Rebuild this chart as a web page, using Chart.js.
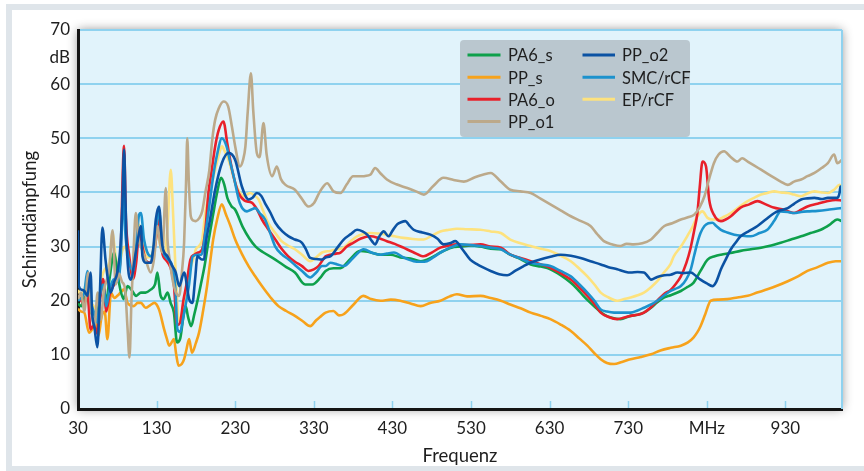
<!DOCTYPE html>
<html>
<head>
<meta charset="utf-8">
<script src="https://cdn.jsdelivr.net/npm/chart.js@4.4.1/dist/chart.umd.min.js"></script>
<style>
html,body{margin:0;padding:0;background:#fff;}
#wrap{width:864px;height:471px;position:relative;}
canvas{display:block;}
</style>
</head>
<body>
<div id="wrap"><canvas id="c" width="864" height="471"></canvas></div>
<script>
// ---- DATA (frequency MHz, shielding dB) ----
const xTickValues = [30,130,230,330,430,530,630,730,830,930];
const xTickLabels = ['30','130','230','330','430','530','630','730','MHz','930'];
const seriesNames = ['PA6_s','PP_s','PA6_o','PP_o1','PP_o2','SMC/rCF','EP/rCF'];

const PA6_s = [[30,19.5],[34,19],[38,20.5],[42,20.9],[46,17.8],[50,17.5],[54,17.2],[58,21],[62,22.7],[66,20],[70,24],[76,28.9],[80,25.2],[84,22],[88,20.3],[93,22.7],[98,22],[104,20.9],[110,21.5],[116,21.5],[122,22],[128,23],[131,25.2],[135,21],[139,20.3],[144,21.5],[148,19.5],[152,17.8],[156,12.3],[160,13],[164,17],[167,19],[170,17],[174,15.3],[178,17.5],[182,20],[187,23.5],[191,26.4],[196,31],[202,36],[207,40],[212,42.7],[216,41.5],[220,39],[225,37.5],[230,36.8],[240,33.5],[248,31.5],[256,30],[265,29],[281,27.6],[295,26.2],[306,25.2],[319,23],[328,23],[338,24.2],[345,25.5],[355,26],[364,26],[375,27.5],[389,29.2],[400,29],[415,28.5],[428,28.5],[440,28],[453,27.8],[466,27.3],[480,28],[491,28.9],[505,29.8],[517,30],[530,30.2],[542,30],[555,29.6],[568,29.5],[580,28.5],[593,27.7],[606,26.7],[619,26.3],[631,25.8],[644,24.7],[657,23.3],[665,22.2],[673,20.9],[682,19.6],[691,18.4],[700,17.4],[708,16.9],[720,16.6],[733,17.2],[742,17.4],[750,17.8],[759,18.7],[767,19.7],[776,20.6],[784,21],[797,21.8],[805,22.5],[813,23.3],[822,25.5],[831,27.6],[840,28.2],[848,28.5],[860,28.8],[873,29.2],[886,29.5],[899,29.8],[912,30.2],[924,30.7],[937,31.3],[950,31.9],[962,32.5],[975,33.1],[986,34],[996,35],[1002,34.7]];

const PP_s = [[30,18.5],[34,18],[38,17.8],[44,14.1],[48,14.7],[52,16],[56,13.5],[60,17],[64,18],[67.4,12.9],[72,21.5],[76,20.5],[80,20.9],[84,21.5],[88.6,22.1],[93,19.6],[101,19],[106,19.6],[110,19.6],[116,18.7],[122,19.2],[127,19.6],[133,18.4],[139.6,14.7],[143,13],[146,11.7],[150,12.5],[152,12.9],[155,10],[158,8],[162,8.3],[165,9.2],[168,11],[171.4,12.9],[175,10.4],[180,12.2],[184,14.1],[189,18],[194,22.5],[198,27],[202,31.3],[207,35],[213,37.8],[218,36],[224,33.8],[230,31.3],[238,28.8],[247,26.4],[255,24.6],[264,22.7],[275,20.6],[285,19],[295,18.1],[306,17.2],[316,16.2],[325.5,15.3],[333,16.4],[338,17],[345,17.8],[355,18.1],[362,17.3],[368,17.5],[380,19.2],[393,20.9],[403,20.3],[415,20],[428,20.2],[440,20],[453,19.5],[466,19],[478,19.6],[491,20],[503,20.8],[512,21.2],[525,20.8],[542,20.9],[555,20.5],[568,20],[580,19.3],[593,18.6],[606,17.8],[619,17.2],[631,16.6],[644,15.6],[657,14.4],[668,13],[678,11.7],[687,10.3],[695,9.2],[703,8.5],[712,8.3],[722,8.7],[733,9.2],[746,9.6],[759,10.1],[771,10.8],[784,11.3],[797,11.7],[806,12.3],[813,13.2],[818,14.2],[822,15.3],[828,17.5],[835,20],[845,20.2],[856,20.3],[869,20.6],[882,20.9],[894,21.5],[907,22.1],[920,22.8],[933,23.6],[946,24.5],[958,25.5],[971,26.2],[984,27],[994,27.3],[1002,27.3]];

const PA6_o = [[30,21],[34,20],[38,19.5],[42,21.5],[46,14.7],[50,15.5],[54,14],[58,20],[62,24],[66,18],[70,21],[76,23],[80,24],[84,28],[88.6,48.6],[91,35],[95,28.5],[100,24],[104,27],[108,33],[112,30],[116,27.5],[122,27],[128,30],[133,35.5],[137,29],[142,27.5],[148,26],[152,23],[156,15.5],[160,16],[164,20],[168,23],[173,27.6],[178,28.5],[183,28.9],[188,29.5],[192,33],[196,40],[200,44],[204.5,48.5],[209,51.5],[215,53.1],[220,49],[226,44.2],[234,40],[242,38.5],[251,38.1],[258,36.8],[264,35],[272,33.2],[281,31.3],[289,29.6],[297.5,28.2],[306,27.2],[315,26.4],[323,25.5],[330,25.8],[336,26.4],[345,28.2],[351,28.5],[358,28.7],[364,28.9],[372,30],[380,30.7],[390,31.5],[402,31.9],[412,31.6],[423,31],[433,30.5],[444,29.8],[456,29],[470,28.2],[480,28.9],[491,29.8],[502,30.2],[512,30.4],[525,30.3],[542,30.4],[555,30],[568,29.8],[580,28.5],[593,27.9],[606,27.3],[619,26.7],[631,26.1],[644,25.1],[657,23.9],[668,22.4],[678,20.9],[687,19.4],[695,17.8],[705,17],[716,16.6],[725,16.9],[733,17.2],[742,17.4],[750,17.8],[759,18.8],[767,20],[776,21.3],[784,22],[790,23],[797,24.5],[804,27],[809,29.5],[814,33],[818,36.2],[821,41],[824.5,45.7],[829,44.8],[833,38.7],[839,35.9],[848,34.7],[854,35],[860.6,35.6],[873,37.2],[884,37.8],[894.5,38.4],[905,37.8],[915,37.2],[928,36.8],[941,36.2],[950,36.8],[958,37.4],[971,37.9],[984,38.4],[994,38.6],[1002,38.5]];

const PP_o1 = [[30,20.3],[34,21.5],[38,18],[43,25.2],[47,18],[51,15.3],[55,21.5],[59,16.5],[63,22],[67,24],[70,26],[74,33],[78,23],[82,25],[86,23.5],[90,22],[93,15],[95.5,9.5],[98,20],[101,30],[103.5,36.2],[107,31.3],[110,30],[116,27.6],[122.6,25.2],[127,28],[131,33.8],[135,30],[137.4,28.9],[141.7,40.8],[144,31],[146,28.2],[152,22.7],[158.7,20.9],[162,25],[165,30.7],[167.5,42],[169,50],[171,42],[173.5,35.6],[177,34.8],[180,34.7],[184,35.2],[188,36.5],[192,40],[197,44],[201,50],[204.5,53.4],[209,55.5],[215,56.8],[221,55.9],[226,52],[230,48.5],[236,44.8],[240,46],[243,48.5],[246,55],[250,62],[253,55],[257.5,47.3],[261,46.5],[266,52.8],[270,47],[277,43],[283,44.8],[288,42.5],[294,41.4],[306,40.5],[314,39],[323,37.4],[330,38],[338,40.2],[347,41.7],[355,40.2],[364,39.9],[372,41.5],[380,43],[390,43],[402,43.3],[408,44.5],[415,43.5],[423,42.4],[435,41.5],[449,40.8],[460,40.2],[470,39.6],[482,41.2],[495,42.7],[508,42.3],[521,42],[535,42.8],[546,43.3],[555,43.6],[568,42],[580,40.5],[593,40.2],[606,39.9],[619,38.8],[631,37.8],[644,36.7],[657,35.6],[670,34.7],[682,33.8],[690,32.4],[699,31],[710,30.4],[720,30.1],[728,30.5],[737,30.4],[748,30.6],[759,31.3],[767,32.5],[776,33.8],[786,34.3],[797,35],[806,35.4],[814,35.9],[821,37.3],[827,39.3],[833,42.5],[839,45.4],[845,47],[852,47.6],[860,46.6],[869,45.7],[875,46.3],[882,45.7],[890,45],[899,44.2],[908,43.4],[916,42.7],[924,42],[933,41.4],[941,42],[950,42.4],[958,43],[967,43.6],[976,44.5],[984,45.4],[992,47],[996,45.4],[1002,46]];

const PP_o2 = [[30,33],[31,22.7],[35,22],[38,21.8],[42,20.9],[46,25.2],[48,17.8],[51,15],[54.6,11.4],[58,22],[61,33.5],[65,27.6],[68,24],[71.6,21.5],[76,23.5],[80,25.2],[84,30.1],[86.5,38],[88.6,47.9],[90.5,38],[92,30.1],[97,23.9],[103.5,28.9],[107.7,32.5],[110,33.8],[112,28.2],[116,27],[122.6,27],[126,30],[129,35],[133,37.4],[137.4,30.1],[143.8,28.2],[150,26.4],[154.4,25.2],[158.7,22.7],[165,25.2],[171.4,20.3],[175.6,19.6],[179,24],[182,28.2],[187.5,27.6],[190.5,27.6],[192,30],[198,35],[204.5,40.5],[213,45.4],[221.5,47.3],[230,46],[238.5,41.1],[247,38.7],[252,39],[257.5,39.9],[263,39.4],[268,38],[275,36.2],[281,34.4],[290,32.8],[298,31.9],[306,31.3],[315,30.7],[320,29.5],[325.5,27.9],[333,27.7],[340.5,27.6],[345,28],[351,28.2],[360,29.8],[368,31.3],[377,32.3],[385,33.1],[392,32.8],[398,32.2],[404,31],[408,30.4],[413,31.8],[419,32.8],[425,31.9],[430,32.9],[436,34.1],[441,34.5],[446.6,34.7],[451,34],[457,33.1],[468,32.6],[478.4,32.2],[487,31.5],[495,30.4],[503,30.6],[510,31],[519,29.5],[529,27.6],[537,26.8],[546,26.1],[555,25.5],[566,24.9],[576,24.7],[586,25.5],[597,26.4],[607,27.1],[618,27.6],[631,28.1],[644,28.5],[657,28.3],[669.5,27.9],[682,27.3],[695,26.7],[705,26.2],[716,25.8],[725,25.4],[733,25.2],[742,25.3],[750,25.2],[755,24.5],[759,23.9],[767,24.4],[776,24.7],[784,24.8],[792.5,25.2],[800,25.1],[809.6,25.2],[816,24.6],[822,23.9],[830,23.2],[837,22.7],[842,23.5],[848,25.8],[854,27.6],[860.6,29.5],[867,30.8],[873,31.9],[884,32.9],[894.5,33.8],[905,35],[916,36.2],[924,36.7],[933,37.1],[941,37.9],[950,38.7],[958,38.9],[967,39],[976,38.8],[984,39],[992,39],[996,39],[999,40],[1000,41.1],[1002,40.5]];

const SMC_rCF = [[30,20],[34,20.5],[38,21.5],[42,25.5],[46,20],[50,18],[54.6,16],[58,21],[62,23],[66,19],[70,22],[76,24],[80,23.5],[84,27],[88,40],[90,33],[94,28],[100,25.5],[104,30],[107.7,35.9],[110,36.2],[114,31.3],[118,29],[122.6,28.2],[128,31],[133,36.8],[137,30],[142,28],[150,26.4],[154,22],[156.5,14.7],[160,14.2],[164,17],[171,22.7],[176,28.2],[182,28.5],[187,28.5],[192,32.5],[197,37.5],[202,43],[207,47],[213,50],[219,48.5],[223,46],[228,43],[236,38],[245,36.5],[250,36.8],[255.5,37.1],[261,36.2],[268,35],[275,32.3],[281,30],[289,28.6],[298,27.6],[306,26.6],[315,25.5],[325.5,24.3],[333,25.2],[340.5,26.4],[345,26.4],[351,27],[360,26.7],[368,26.4],[380,27.9],[393.5,29.5],[405,28.8],[415,28.5],[423,28.7],[432,28.9],[444,28],[457,27.3],[466,27.2],[474,27.3],[485,28.3],[495,29.2],[505,29.9],[516.6,30.4],[530,30.3],[542,30.1],[555,29.8],[568,29.5],[580,28.5],[593,27.8],[606,27],[619,26.7],[631,26.4],[644,25.5],[657,24.5],[668,23],[678,21.5],[687,20],[695,18.4],[703,18],[712,17.8],[722,17.8],[733,17.8],[742,18.2],[750,18.7],[759,19.3],[767,20],[776,21],[784,21.8],[790,22.2],[797,22.7],[804,24],[809.6,25.8],[814,28.4],[818,30.7],[822,32.5],[827,33.8],[832,34.3],[837,34.4],[842,33.8],[848,33.1],[856,32.6],[865,32.2],[875,32],[886,31.9],[897,32.5],[907,33.1],[916,34.8],[924,36.5],[933,36.4],[941,36.2],[950,36.4],[958,36.5],[971,36.6],[984,36.8],[994,37],[1002,37.1]];

const EP_rCF = [[30,22],[34,21],[38,22],[42,24],[46,20],[50,19],[55,18],[60,24],[65,26],[70,27],[73.7,32.5],[78,28],[82,26],[86,29],[90,30],[95,27],[100,26],[104,30],[108,34],[112,31],[118,28],[124,28.5],[130,33],[135,30],[140,28],[144,34],[148,44.2],[151,36],[154,26],[156.5,19],[158,16.3],[162,17.5],[166,21],[171,25],[177,27.9],[180,29.5],[184,30.1],[188,31.3],[192,36.2],[198,40.5],[204.5,44.2],[209,46.8],[213,48.5],[217,47.5],[221.5,46],[226,43.8],[230,41.7],[235,40.2],[240.6,39.3],[245,39.6],[249,39.9],[254,39.5],[259.7,38.7],[265,36.8],[272,34.4],[281,32.5],[289,31],[297,30.2],[306,29.5],[315,28.5],[325.5,27.3],[333,28],[340.5,28.9],[351,29.2],[360,29.5],[368,29.8],[377,31],[385,31.9],[393,32.3],[402,32.5],[412,32.4],[423,32.2],[433,31.9],[444,31.6],[456,31.4],[470,31.3],[480,32],[491,32.8],[502,33.1],[512,33.3],[525,33.2],[542,33.1],[555,32.8],[568,32.5],[580,31.3],[593,30.6],[606,30.1],[619,29.6],[631,29.2],[644,28.3],[657,27.3],[668,25.9],[678,24.5],[687,23],[695,21.5],[705,20.6],[716,20],[725,20.3],[733,20.6],[742,21],[750,21.5],[759,22.5],[767,23.6],[776,25.3],[784,26.8],[788,28.2],[797,30],[805,31.9],[812,33.7],[818,35.6],[824.5,36.5],[831,35.3],[837,35],[843.5,35],[852,35.5],[860.6,36.2],[871,37.3],[882,38.4],[890,39],[899,39.6],[907,39.9],[916,40.2],[924,40],[933,39.9],[941,39.6],[950,39.3],[958,39.8],[967,40.2],[976,40],[984,39.9],[992,40.5],[999,41.4],[1002,40.8]];

// ---- STYLE ----
const colors = {
  'PA6_s':'#0ea04b','PP_s':'#f7a21b','PA6_o':'#e8202a','PP_o1':'#bca98a',
  'PP_o2':'#0b52a3','SMC/rCF':'#1c92cd','EP/rCF':'#fde27e'
};
const seriesData = {
  'PA6_s':PA6_s,'PP_s':PP_s,'PA6_o':PA6_o,'PP_o1':PP_o1,
  'PP_o2':PP_o2,'SMC/rCF':SMC_rCF,'EP/rCF':EP_rCF
};
// drawing stack: first = top-most
const drawStack = ['PP_o2','PP_o1','SMC/rCF','PA6_o','PA6_s','EP/rCF','PP_s'];
const FONT = 'Lato, "Open Sans", sans-serif';
const GRID = '#8fd2ef';

const datasets = drawStack.map((name, i) => ({
  label: name,
  data: seriesData[name].map(p => ({x: p[0], y: p[1]})),
  borderColor: colors[name],
  backgroundColor: colors[name],
  borderWidth: 2.6,
  pointRadius: 0,
  cubicInterpolationMode: 'monotone',
  fill: false,
  order: i
}));

const framePlugin = {
  id: 'frame',
  beforeDraw(chart) {
    const ctx = chart.ctx, a = chart.chartArea;
    ctx.save();
    ctx.fillStyle = '#fff';
    ctx.fillRect(0, 0, chart.width, chart.height);
    ctx.fillStyle = '#dfe5ea';
    ctx.fillRect(6, 4, chart.width - 6, chart.height - 4);
    ctx.fillStyle = '#fff';
    ctx.fillRect(12, 10, chart.width - 12, chart.height - 15);
    ctx.shadowColor = 'rgba(0,0,0,0.45)';
    ctx.shadowBlur = 10;
    ctx.fillStyle = '#e1f3fb';
    ctx.fillRect(a.left, a.top, a.right - a.left, a.bottom - a.top);
    ctx.restore();
  },
  afterDatasetsDraw(chart) {
    const ctx = chart.ctx, a = chart.chartArea, xs = chart.scales.x;
    ctx.save();
    ctx.strokeStyle = GRID;
    ctx.lineWidth = 2;
    ctx.beginPath();
    ctx.moveTo(a.right, a.top); ctx.lineTo(a.right, a.bottom);
    ctx.stroke();
    ctx.lineWidth = 1.5;
    xTickValues.slice(1).forEach(v => {
      const px = Math.round(xs.getPixelForValue(v)) + 0.5;
      ctx.beginPath();
      ctx.moveTo(px, a.bottom - 1); ctx.lineTo(px, a.bottom - 8);
      ctx.stroke();
    });
    ctx.restore();
  },
  afterDraw(chart) {
    // legend box
    const ctx = chart.ctx;
    ctx.save();
    ctx.fillStyle = '#bac7cf';
    ctx.beginPath();
    if (ctx.roundRect) ctx.roundRect(460, 40, 230, 97, 4); else ctx.rect(460, 40, 230, 97);
    ctx.fill();
    const cols = [['PA6_s','PP_s','PA6_o','PP_o1'], ['PP_o2','SMC/rCF','EP/rCF']];
    const colX = [[467.5, 500.5, 508], [582.5, 615, 622]];
    const rowY = [55, 77.3, 99.2, 121.5];
    ctx.font = '16.5px ' + FONT;
    ctx.textBaseline = 'middle';
    ctx.textAlign = 'left';
    cols.forEach((col, ci) => {
      col.forEach((name, ri) => {
        const y = rowY[ri];
        ctx.strokeStyle = colors[name];
        ctx.lineWidth = 3;
        ctx.beginPath();
        ctx.moveTo(colX[ci][0], y); ctx.lineTo(colX[ci][1], y);
        ctx.stroke();
        ctx.fillStyle = '#1e1e1e';
        ctx.fillText(name, colX[ci][2], y + 1);
      });
    });
    ctx.restore();
  }
};

new Chart(document.getElementById('c'), {
  type: 'line',
  data: { datasets },
  plugins: [framePlugin],
  options: {
    responsive: false,
    devicePixelRatio: 1,
    animation: false,
    layout: { padding: { top: 30, right: 22, left: 0, bottom: 0 } },
    plugins: { legend: { display: false }, tooltip: { enabled: false } },
    scales: {
      x: {
        type: 'linear', min: 30, max: 1002,
        afterBuildTicks: s => { s.ticks = xTickValues.map(v => ({ value: v })); },
        afterFit: s => { s.height = 62; },
        ticks: {
          autoSkip: false, maxRotation: 0, padding: 9,
          color: '#1e1e1e', font: { family: FONT, size: 17 },
          callback: (v, i) => xTickLabels[i]
        },
        grid: { display: false, drawTicks: false },
        border: { display: true, color: '#141414', width: 3 },
        title: { display: true, text: 'Frequenz', color: '#1e1e1e',
                 font: { family: FONT, size: 18.5 }, padding: { top: 0, bottom: 4 } }
      },
      y: {
        min: 0, max: 70,
        afterFit: s => { s.width = 78; },
        ticks: {
          stepSize: 5, padding: 8, color: '#1e1e1e', font: { family: FONT, size: 17 },
          callback: v => (v % 10 === 0 ? String(v) : (v === 65 ? 'dB' : ''))
        },
        grid: {
          drawTicks: false, lineWidth: 2,
          color: c => (c.tick && c.tick.value % 10 === 0 && c.tick.value > 0) ? GRID : 'rgba(0,0,0,0)'
        },
        border: { display: true, color: '#141414', width: 3 },
        title: { display: true, text: 'Schirmdämpfung', color: '#1e1e1e',
                 font: { family: FONT, size: 18.5 }, padding: { top: 19, bottom: 0 } }
      }
    }
  }
});
</script>
</body>
</html>
